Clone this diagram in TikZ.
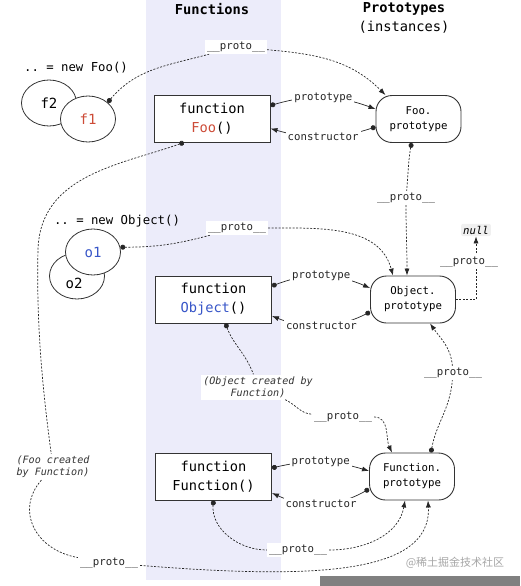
\documentclass[tikz,border=0pt]{standalone}
\usepackage{fontspec}
\setmonofont{DejaVu Sans Mono}
\newfontfamily\cjkfont{Noto Sans CJK SC}
\usetikzlibrary{arrows.meta,shapes.geometric}
\definecolor{fooRed}{RGB}{205,75,55}
\definecolor{objBlue}{RGB}{55,85,200}
\definecolor{bandBlue}{RGB}{236,236,250}
\newcommand{\protolbl}{\_\_proto\_\_}
\begin{document}
\begin{tikzpicture}[x=1pt,y=-1pt,
    fnbox/.style={draw=black!80,fill=white,line width=0.9pt,minimum width=116pt,
      minimum height=47pt,align=center,inner sep=0pt,font=\fontsize{13.7}{19}\ttfamily},
    protobox/.style={draw=black!80,fill=white,line width=0.9pt,rounded corners=16pt,
      minimum width=85pt,minimum height=47pt,align=center,inner sep=0pt,
      font=\fontsize{10.7}{15}\ttfamily},
    inst/.style={ellipse,draw=black!80,fill=white,line width=0.8pt,minimum width=55pt,
      minimum height=46pt,inner sep=0pt,font=\fontsize{14}{16}\ttfamily},
    lbl/.style={fill=white,inner sep=2pt,text=black!85,font=\fontsize{10.7}{13}\ttfamily},
    note/.style={fill=white,inner sep=2pt,align=center,text=black!80,
      font=\fontsize{10.1}{12}\ttfamily\itshape},
    link/.style={line width=0.7pt,black!85,{Circle[length=5pt]}-{Latex[length=7pt,width=5pt]}},
    pline/.style={line width=0.7pt,black!85,dash pattern=on 2pt off 1.5pt},
    dotstart/.style={{Circle[length=5pt]}-},
    arrowend/.style={-{Latex[length=7pt,width=5pt]}}]

    \useasboundingbox (0,0) rectangle (520,586);
    \fill[bandBlue] (146,0) rectangle (281,580);
    \fill[black!50] (320,576) rectangle (520,586);

    \node[font=\fontsize{13.7}{16}\ttfamily\bfseries] (fnTitle) at (212,9) {Functions};
    \node[align=center,font=\fontsize{13.7}{19}\ttfamily] (prTitle) at (404,17.5)
    {\textbf{Prototypes}\\(instances)};

    \node[fnbox] (foo) at (212,118.5) {function\\\textcolor{fooRed}{Foo}()};
    \node[fnbox] (obj) at (213.5,299.5) {function\\\textcolor{objBlue}{Object}()};
    \node[fnbox] (fun) at (213.5,476.5) {function\\Function()};

    \node[protobox] (foop) at (418.5,119) {Foo.\\prototype};
    \node[protobox] (objp) at (413,299.5) {Object.\\prototype};
    \node[protobox] (funp) at (412,476.5) {Function.\\prototype};

    \node[font=\fontsize{12.3}{14}\ttfamily] (newfoo) at (76,68) {.. = new Foo()};
    \node[inst] (f2) at (49,103) {f2};
    \node[inst,text=fooRed] (f1) at (88,119) {f1};

    \node[font=\fontsize{12.3}{14}\ttfamily] (newobj) at (117,221) {.. = new Object()};
    \node[inst] (o2) at (77,276) {};
    \node[font=\fontsize{14}{16}\ttfamily] (o2lbl) at (74,283) {o2};
    \node[inst,text=objBlue] (o1) at (93,252) {o1};

    \node[fill=black!6,rounded corners=2pt,inner sep=2pt,
    font=\fontsize{10.7}{13}\ttfamily\itshape] (null) at (476,230) {null};

    \node[lbl] (proto1) at (236,47) {\protolbl};
    \node[lbl] (proto2) at (406,198) {\protolbl};
    \node[lbl] (proto3) at (237,228) {\protolbl};
    \node[lbl] (proto4) at (453,373) {\protolbl};
    \node[lbl] (proto5) at (109,563) {\protolbl};
    \node[lbl] (proto6) at (343,417) {\protolbl};
    \node[lbl] (proto7) at (298,550) {\protolbl};
    \node[note] (objcr) at (258,387) {(Object created by\\Function)};
    \node[note] (foocr) at (53,467) {(Foo created\\by Function)};

    \draw[link] ([yshift=13pt]foo.east) to[bend left=18] node[lbl] {prototype}
    ([yshift=10pt]foop.west);
    \draw[link] ([yshift=-8pt]foop.west) to[bend left=17] node[lbl] {constructor}
    ([yshift=-10pt]foo.east);
    \draw[link] ([yshift=13.5pt]obj.east) to[bend left=22] node[lbl] {prototype}
    ([yshift=11.5pt]objp.west);
    \draw[link] ([yshift=-12.5pt]objp.west) to[bend left=24] node[lbl] {constructor}
    ([yshift=-16.5pt]obj.east);
    \draw[link] ([yshift=8.5pt]fun.east) to[bend left=15] node[lbl] {prototype}
    ([yshift=5.5pt]funp.west);
    \draw[link] ([yshift=-12.5pt]funp.west) to[bend left=27] node[lbl] {constructor}
    ([yshift=-16.5pt]fun.east);

    \draw[pline,dotstart] (f1.40) to[out=50,in=195] (proto1);
    \draw[pline,arrowend] (proto1) to[out=-5,in=135] ([xshift=-33pt]foop.north);

    \draw[pline,dotstart] ([xshift=-7pt]foop.south) to[out=-100,in=85] (proto2);
    \draw[pline,arrowend] (proto2) to[out=-90,in=90] ([xshift=-6pt]objp.north);

    \draw[pline,dotstart] (o1.10) to[out=0,in=195] (proto3);
    \draw[pline,arrowend] (proto3) to[out=0,in=105] ([xshift=-20pt]objp.north);

    \draw[pline,dotstart,arrowend] (objp.east) -| node[lbl,pos=0.8,xshift=-7pt] {\protolbl}
    (null.south);

    \draw[pline,dotstart] ([xshift=19pt]funp.north) to[out=80,in=-95] (proto4);
    \draw[pline,arrowend] (proto4) to[out=95,in=-55] ([xshift=17pt]objp.south);

    \draw[pline,dotstart] ([xshift=12pt]obj.south) to[out=-70,in=110] (objcr);
    \draw[pline] (objcr) to[out=-25,in=175] (proto6);
    \draw[pline,arrowend] (proto6) to[out=0,in=115] ([xshift=-20pt]funp.north);

    \draw[pline,dotstart] (fun.south) to[out=-95,in=180] (proto7);
    \draw[pline,arrowend] (proto7) to[out=0,in=-100] ([xshift=-7pt]funp.south);

    \draw[pline,dotstart] ([xshift=-28pt]foo.south) .. controls (120,165) and (40,175) .. (38,250)
    .. controls (36,330) and (44,400) .. (foocr);
    \draw[pline] (foocr) .. controls (15,510) and (35,550) .. (proto5);
    \draw[pline,arrowend] (proto5) .. controls (300,578) and (432,578) .. ([xshift=16pt]funp.south);

    \node[font=\cjkfont\fontsize{11}{13}\selectfont,text=black!35] (mark) at (455,563)
    {@稀土掘金技术社区};
  \end{tikzpicture}
\end{document}
